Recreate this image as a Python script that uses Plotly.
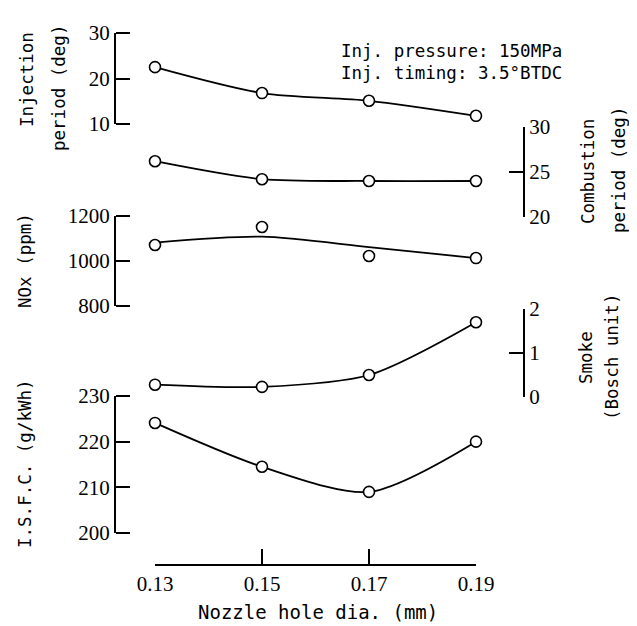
import plotly.graph_objects as go

W, H = 637, 626
OFF = 8  # page body margin of the browser

nozzle_dia = [0.13, 0.15, 0.17, 0.19]
x_ticks = [0.13, 0.15, 0.17, 0.19]
x_ticklabels = ["0.13", "0.15", "0.17", "0.19"]

injection_period = [22.5, 16.8, 15.1, 11.8]
combustion_period = [26.2, 24.2, 24.0, 24.0]
nox = [1071, 1151, 1022, 1013]
nox_curve = [1082, 1108, 1062, 1013]
smoke = [0.28, 0.23, 0.50, 1.70]
isfc = [224.1, 214.5, 209.0, 220.0]

inj_ticks = [10, 20, 30]
comb_ticks = [20, 25, 30]
nox_ticks = [800, 1000, 1200]
smoke_ticks = [0, 1, 2]
isfc_ticks = [200, 210, 220, 230]

FW, FH = W - OFF, H - OFF


def px(x):
    return (x - OFF) / FW


def py(y):
    return 1 - (y - OFF) / FH


# pixel layout
X_LEFT, X_RIGHT = 115, 524        # left / right y-axis lines
X0, X1 = 155, 476                 # positions of 0.13 and 0.19
xmin, xmax = x_ticks[0], x_ticks[-1]
scale = (xmax - xmin) / (X1 - X0)
full_range = [xmin - (X0 - X_LEFT) * scale, xmax + (X_RIGHT - X1) * scale]

TICKFONT = dict(family="Liberation Serif", size=21, color="black")
TITLEFONT = dict(family="DejaVu Sans Mono", size=17.5, color="black")

marker = dict(symbol="circle", size=11, color="white", line=dict(color="black", width=1.6))
line = dict(color="black", width=1.8, shape="spline", smoothing=0.8)

fig = go.Figure()
fig.add_trace(go.Scatter(x=nozzle_dia, y=injection_period, yaxis="y", mode="lines+markers",
                         line=line, marker=marker, cliponaxis=False))
fig.add_trace(go.Scatter(x=nozzle_dia, y=combustion_period, yaxis="y2", mode="lines+markers",
                         line=line, marker=marker, cliponaxis=False))
fig.add_trace(go.Scatter(x=nozzle_dia, y=nox_curve, yaxis="y3", mode="lines",
                         line=line, cliponaxis=False))
fig.add_trace(go.Scatter(x=nozzle_dia, y=nox, yaxis="y3", mode="markers",
                         marker=marker, cliponaxis=False))
fig.add_trace(go.Scatter(x=nozzle_dia, y=smoke, yaxis="y4", mode="lines+markers",
                         line=line, marker=marker, cliponaxis=False))
fig.add_trace(go.Scatter(x=nozzle_dia, y=isfc, yaxis="y5", mode="lines+markers",
                         line=line, marker=marker, cliponaxis=False))
# empty carriers for the bottom x axis and the tick-mark overlay axes
fig.add_trace(go.Scatter(x=x_ticks, y=[None] * len(x_ticks), xaxis="x2", yaxis="y5",
                         mode="markers", hoverinfo="skip"))
for ya in ("y6", "y7", "y8"):
    fig.add_trace(go.Scatter(x=x_ticks, y=[None] * len(x_ticks), yaxis=ya,
                             mode="markers", hoverinfo="skip"))

COMMON = dict(showgrid=False, zeroline=False, tickfont=TICKFONT, automargin=False,
              fixedrange=True, anchor="free", tickwidth=2, tickcolor="black")


def left_axis(domain, rng, ticks):
    # line + labels on the left
    return dict(domain=domain, range=rng, tickvals=ticks, ticktext=[str(t) for t in ticks],
                side="left", position=px(X_LEFT), showline=True, linecolor="black",
                linewidth=2, ticks="", **COMMON)


def left_ticks(over, rng, ticks):
    # tick marks pointing right from the left axis line
    return dict(overlaying=over, range=rng, tickvals=ticks, side="right",
                position=px(X_LEFT), showline=False, ticks="outside", ticklen=14,
                showticklabels=False, **COMMON)


def right_axis(domain, rng, ticks):
    return dict(domain=domain, range=rng, tickvals=ticks, ticktext=[str(t) for t in ticks],
                side="right", position=px(X_RIGHT), showline=True, linecolor="black",
                linewidth=2, ticks="inside", ticklen=14, **COMMON)


fig.update_layout(
    width=FW, height=FH, margin=dict(l=0, r=0, t=0, b=0),
    paper_bgcolor="white", plot_bgcolor="rgba(0,0,0,0)", showlegend=False,
    xaxis=dict(domain=[px(X_LEFT), px(X_RIGHT)], range=full_range, showline=False,
               showticklabels=False, ticks="", showgrid=False, zeroline=False,
               automargin=False, fixedrange=True),
    xaxis2=dict(domain=[px(X0), px(X1)], range=[xmin, xmax], tickvals=x_ticks,
                ticktext=x_ticklabels, anchor="free", position=py(565), showline=True,
                linecolor="black", linewidth=2, ticks="inside", ticklen=15, tickwidth=2,
                tickcolor="black", showgrid=False, zeroline=False, tickfont=TICKFONT,
                automargin=False, fixedrange=True),
    yaxis=left_axis([py(124), py(33)], [10, 30], inj_ticks),
    yaxis2=right_axis([py(217), py(127)], [20, 30], comb_ticks),
    yaxis3=left_axis([py(306), py(216)], [800, 1200], nox_ticks),
    yaxis4=right_axis([py(397), py(309)], [0, 2], smoke_ticks),
    yaxis5=left_axis([py(533), py(396)], [200, 230], isfc_ticks),
    yaxis6=left_ticks("y", [10, 30], inj_ticks),
    yaxis7=left_ticks("y3", [800, 1200], nox_ticks),
    yaxis8=left_ticks("y5", [200, 230], isfc_ticks),
)


def vlabel(text, x, y):
    fig.add_annotation(text=text, x=px(x), y=py(y), xref="paper", yref="paper",
                       textangle=-90, showarrow=False, xanchor="center", yanchor="middle",
                       font=TITLEFONT)


vlabel("Injection", 27, 80)
vlabel("period (deg)", 59, 88)
vlabel("Combustion", 588, 172)
vlabel("period (deg)", 619, 170)
vlabel("NOx (ppm)", 25, 261)
vlabel("Smoke", 586, 358)
vlabel("(Bosch unit)", 612, 357)
vlabel("I.S.F.C. (g/kWh)", 25, 464)

fig.add_annotation(text="Inj. pressure: 150MPa", x=px(339), y=py(51), xref="paper", yref="paper",
                   showarrow=False, xanchor="left", yanchor="middle", font=TITLEFONT)
fig.add_annotation(text="Inj. timing: 3.5°BTDC", x=px(339), y=py(73), xref="paper", yref="paper",
                   showarrow=False, xanchor="left", yanchor="middle", font=TITLEFONT)
fig.add_annotation(text="Nozzle hole dia. (mm)", x=px(318), y=py(612), xref="paper", yref="paper",
                   showarrow=False, xanchor="center", yanchor="middle",
                   font=dict(family="DejaVu Sans Mono", size=19, color="black"))

fig.write_html("out.html")
